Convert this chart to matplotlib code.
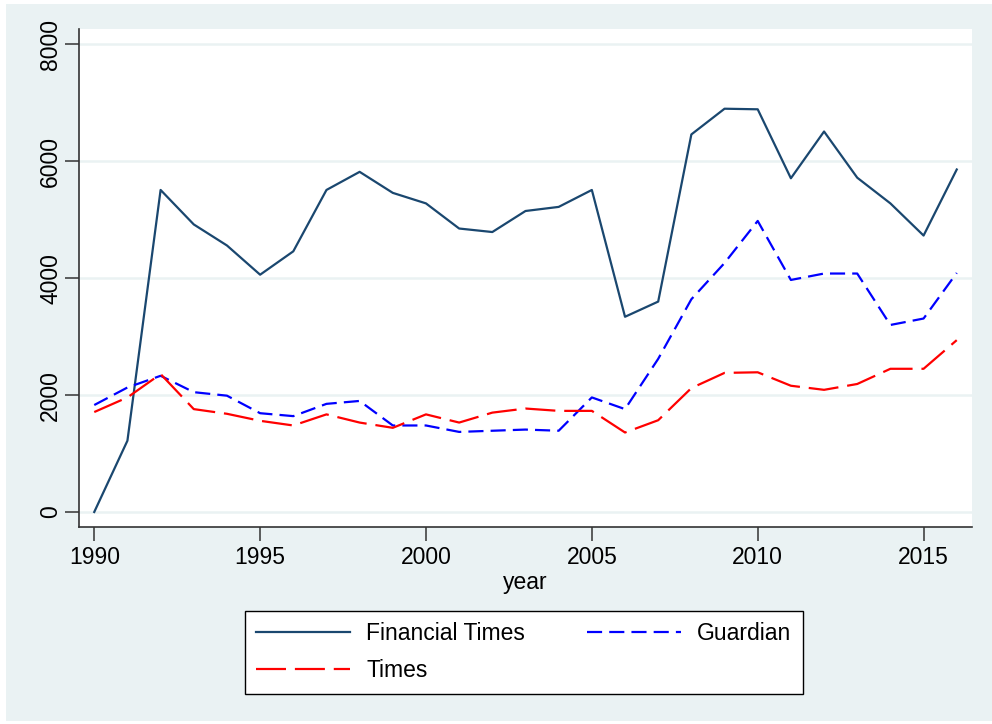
import matplotlib
matplotlib.use("Agg")
import matplotlib.pyplot as plt
from matplotlib.patches import Rectangle

years = list(range(1990, 2017))
financial_times = [0, 1220, 5510, 4920, 4560, 4060, 4460, 5510, 5820, 5460,
                   5280, 4850, 4790, 5150, 5220, 5510, 3340, 3600, 6460, 6900,
                   6890, 5710, 6510, 5720, 5280, 4730, 5860]
guardian = [1830, 2130, 2330, 2050, 1990, 1690, 1640, 1850, 1900, 1480,
            1480, 1370, 1390, 1410, 1390, 1960, 1760, 2620, 3640, 4260,
            4980, 3970, 4080, 4080, 3200, 3310, 4090]
times = [1710, 1960, 2360, 1760, 1680, 1560, 1480, 1670, 1530, 1440,
         1670, 1530, 1700, 1770, 1730, 1730, 1360, 1570, 2120, 2380,
         2390, 2160, 2090, 2190, 2450, 2450, 2940]
xticks = [1990, 1995, 2000, 2005, 2010, 2015]
yticks = [0, 2000, 4000, 6000, 8000]

plt.rcParams['font.family'] = ['Liberation Sans', 'DejaVu Sans']

W, H = 992, 724
fig = plt.figure(figsize=(W / 100, H / 100), dpi=100)
fig.patch.set_facecolor('white')
bg = '#EAF2F3'
fig.patches.append(Rectangle((6 / W, 3 / H), (W - 6) / W, (H - 7) / H,
                             transform=fig.transFigure, facecolor=bg,
                             edgecolor='none', zorder=-10))

L, R, T, B = 79, 972, 29, 527
ax = fig.add_axes([L / W, 1 - B / H, (R - L) / W, (B - T) / H])
ax.set_zorder(1)
ax.set_facecolor('white')

FS = 16.5
navy = '#1A476F'
l_ft, = ax.plot(years, financial_times, color=navy, lw=1.6, label='Financial Times')
l_gu, = ax.plot(years, guardian, color='#0000FF', lw=1.6, dashes=(6.8, 3.2),
                label='Guardian')
l_ti, = ax.plot(years, times, color='#FF0000', lw=1.6, dashes=(13.5, 4.0),
                label='Times')

ax.set_xlim(1989.54, 2016.46)
ax.set_ylim(-257, 8264)
ax.set_xticks(xticks)
ax.set_yticks(yticks)
ax.set_yticklabels([str(v) for v in yticks], rotation=90, va='center')
ax.tick_params(axis='both', direction='out', length=10, width=1.1,
               color='#333333', labelsize=FS, labelcolor='black', pad=4)
ax.tick_params(axis='y', pad=2)
ax.grid(axis='y', color=bg, lw=1.8)
ax.set_axisbelow(True)
for s in ['top', 'right']:
    ax.spines[s].set_visible(False)
for s in ['left', 'bottom']:
    ax.spines[s].set_color('#333333')
    ax.spines[s].set_linewidth(1.2)

ax.set_xlabel('year', fontsize=FS, labelpad=1)

leg = fig.legend([l_ft, l_ti, l_gu], ['Financial Times', 'Times', 'Guardian'],
                 loc='upper left',
                 bbox_to_anchor=(245 / W, 1 - 690 / H, (803 - 245) / W, (690 - 611) / H),
                 mode='expand', ncol=2, fontsize=FS, frameon=True, framealpha=1,
                 fancybox=False, handlelength=4.1, handletextpad=0.7,
                 columnspacing=1.2, borderpad=0.5, labelspacing=0.6,
                 borderaxespad=0)
leg.get_frame().set_edgecolor('black')
leg.get_frame().set_linewidth(1.0)
leg.get_frame().set_facecolor('white')

fig.savefig('out.png', dpi=100, facecolor=fig.get_facecolor())
